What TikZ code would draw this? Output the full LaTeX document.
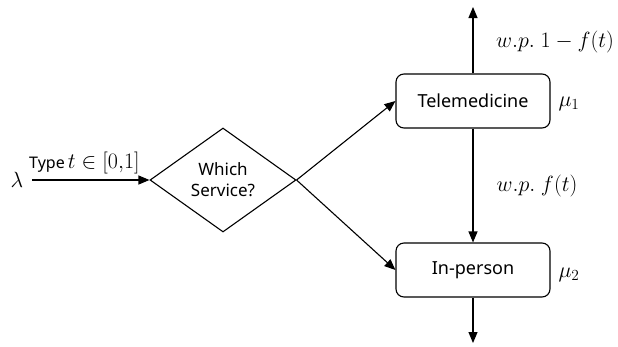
\RequirePackage{fix-cm}
\documentclass[tikz,border=0pt]{standalone}
\usepackage{fontspec}
\setmainfont{Noto Sans}
\usetikzlibrary{arrows.meta,shapes.geometric}
\tikzset{
  conn/.style={line width=1.1pt,-{Triangle[length=11pt,width=9pt]}},
  servicebox/.style={draw,line width=1.1pt,rounded corners=8pt,minimum width=154pt,minimum height=54pt,inner sep=0pt,font=\fontsize{18}{20}\selectfont},
  decision/.style={draw,line width=1.1pt,diamond,minimum width=146pt,minimum height=104pt,inner sep=0pt,align=center,font=\fontsize{17}{21}\selectfont},
  mathlbl/.style={inner sep=0pt,font=\fontsize{22}{26}\selectfont},
  smalllbl/.style={inner sep=0pt,font=\fontsize{16}{18}\selectfont}
}
\begin{document}
\begin{tikzpicture}[x=1pt,y=-1pt]
\useasboundingbox (0,0) rectangle (618,346);
% queue-routing nodes
\node[decision] (svc) at (223,180) {Which\\Service?};
\node[servicebox] (tele) at (473,101) {Telemedicine};
\node[servicebox] (inp) at (473,270) {In-person};
% arrival stream
\node[mathlbl] (lam) at (17,180) {$\lambda$};
\coordinate (src) at (32,180);
\coordinate (outtop) at (473,7);
\coordinate (outbot) at (473,343);
\draw[conn] (src) -- (svc.west);
\node[smalllbl,anchor=base west] (type) at (29,168) {Type\hspace{3pt}\fontsize{22}{24}\selectfont$t\in[0{,}1]$};
% routing
\draw[conn] (svc.east) -- (tele.west);
\draw[conn] (svc.east) -- (inp.west);
\draw[conn] (tele.north) -- (outtop);
\draw[conn] (tele.south) -- (inp.north);
\draw[conn] (inp.south) -- (outbot);
% rates and probabilities
\node[mathlbl] (mu1) at (569,104) {$\mu_1$};
\node[mathlbl] (mu2) at (569,275) {$\mu_2$};
\node[mathlbl] (pexit) at (555,42) {$w.p.\ 1-f(t)$};
\node[mathlbl] (pmove) at (537,186) {$w.p.\ f(t)$};
\end{tikzpicture}
\end{document}
